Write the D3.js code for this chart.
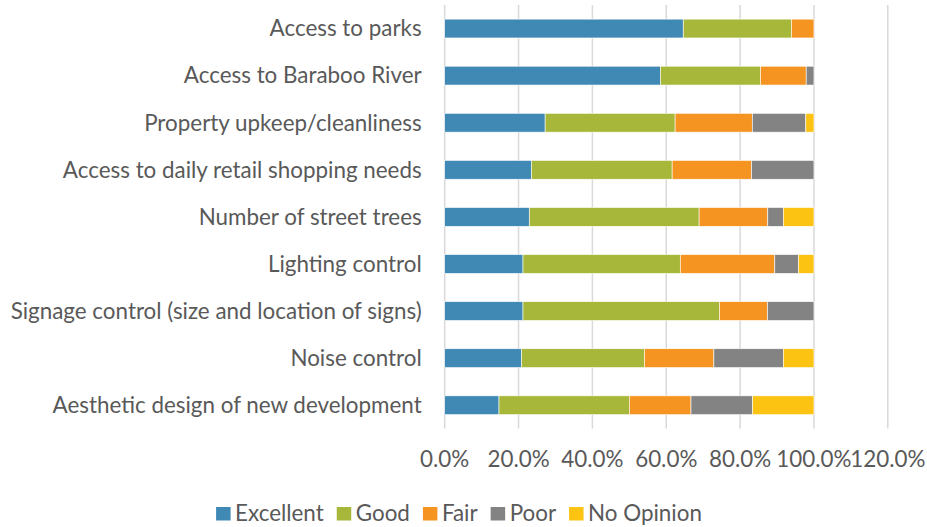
<!DOCTYPE html>
<html>
<head>
<meta charset="utf-8">
<script src="https://cdn.jsdelivr.net/npm/d3@7"></script>
<style>
  html, body { margin: 0; padding: 0; background: #fff; }
  svg { display: block; }
  text { font-family: Lato, "Open Sans", sans-serif; fill: #595959; }
</style>
</head>
<body>
<svg id="chart" width="927" height="527"></svg>
<script>
const categories = [
  "Access to parks",
  "Access to Baraboo River",
  "Property upkeep/cleanliness",
  "Access to daily retail shopping needs",
  "Number of street trees",
  "Lighting control",
  "Signage control (size and location of signs)",
  "Noise control",
  "Aesthetic design of new development"
];
const seriesNames = ["Excellent", "Good", "Fair", "Poor", "No Opinion"];
const excellent = [0.646, 0.584, 0.272, 0.235, 0.229, 0.212, 0.212, 0.208, 0.147];
const good      = [0.293, 0.271, 0.352, 0.381, 0.460, 0.426, 0.532, 0.333, 0.353];
const fair      = [0.061, 0.124, 0.209, 0.215, 0.186, 0.256, 0.130, 0.188, 0.167];
const poor      = [0.000, 0.021, 0.145, 0.169, 0.042, 0.064, 0.126, 0.188, 0.167];
const noOpinion = [0.000, 0.000, 0.022, 0.000, 0.083, 0.042, 0.000, 0.083, 0.166];
const tickValues = [0, 0.2, 0.4, 0.6, 0.8, 1.0, 1.2];
const tickLabels = ["0.0%", "20.0%", "40.0%", "60.0%", "80.0%", "100.0%", "120.0%"];
const colors = ["#4189b5", "#a6b73a", "#f59421", "#838383", "#fcc313"];

const rows = categories.map((c, i) => ({
  category: c,
  "Excellent": excellent[i],
  "Good": good[i],
  "Fair": fair[i],
  "Poor": poor[i],
  "No Opinion": noOpinion[i]
}));

const svg = d3.select("#chart");
const fontSize = 22.4;

const x = d3.scaleLinear().domain([0, 1.2]).range([444.7, 887.8]);
const y = d3.scaleBand().domain(categories).range([5, 428.8]).paddingInner(0.6).paddingOuter(0.3);
const color = d3.scaleOrdinal().domain(seriesNames).range(colors);

// gridlines
svg.append("g").selectAll("line").data(tickValues).join("line")
  .attr("x1", d => x(d)).attr("x2", d => x(d))
  .attr("y1", 5).attr("y2", 428.5)
  .attr("stroke", "#d9d9d9").attr("stroke-width", 1.5);

// bars
const stack = d3.stack().keys(seriesNames);
const stacked = stack(rows);
svg.append("g").selectAll("g").data(stacked).join("g")
  .attr("fill", d => color(d.key))
  .selectAll("rect").data(d => d.filter(s => s[1] - s[0] > 0)).join("rect")
  .attr("x", d => x(d[0]))
  .attr("width", d => x(d[1]) - x(d[0]))
  .attr("y", d => y(d.data.category))
  .attr("height", y.bandwidth())
  .attr("stroke", "#ffffff").attr("stroke-width", 0.6);

// category labels
svg.append("g").selectAll("text").data(categories).join("text")
  .attr("x", 421.7)
  .attr("y", d => y(d) + y.bandwidth() / 2 + 7.8)
  .attr("text-anchor", "end")
  .style("font-size", fontSize + "px")
  .text(d => d);

// x tick labels
svg.append("g").selectAll("text").data(tickValues).join("text")
  .attr("x", (d, i) => x(d))
  .attr("y", 466.5)
  .attr("text-anchor", "middle")
  .style("font-size", fontSize + "px")
  .text((d, i) => tickLabels[i]);

// legend
const legend = svg.append("g");
const items = legend.selectAll("g").data(seriesNames).join("g");
items.append("rect").attr("width", 14.5).attr("height", 13.5).attr("y", 507)
  .attr("fill", d => color(d));
items.append("text").attr("x", 19).attr("y", 520.5)
  .style("font-size", fontSize + "px").text(d => d);
const widths = [];
items.each(function() { widths.push(19 + this.querySelector("text").getComputedTextLength()); });
const gap = 13;
const total = d3.sum(widths) + gap * (widths.length - 1);
let cx = 459 - total / 2;
items.attr("transform", (d, i) => { const t = `translate(${cx},0)`; cx += widths[i] + gap; return t; });
</script>
</body>
</html>
